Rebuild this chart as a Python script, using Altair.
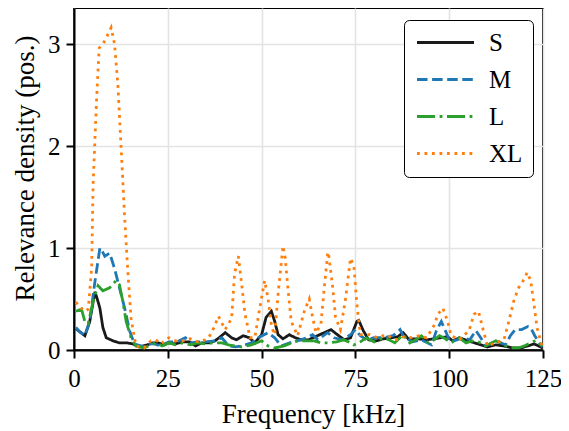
import altair as alt
import pandas as pd

# ---- data ----
s_x = [0.5, 1.5, 2.9, 4.2, 5.0, 5.6, 6.2, 6.9, 7.7, 8.6, 10.4, 12.1, 14.0, 15.7, 17.4, 19.5, 21.0, 22.5, 24.0, 25.3,
       27.0, 29.0, 30.8, 32.4, 34.0, 35.9, 37.6, 39.0, 40.3, 42.0, 43.3, 45.1, 46.7, 48.2, 50.0, 51.2, 52.6, 53.5,
       54.4, 55.7, 57.4, 59.0, 60.5, 62.5, 64.9, 66.7, 68.5, 70.2, 72.0, 73.7, 75.4, 75.9, 77.1, 78.5, 80.5, 82.5,
       84.5, 86.3, 87.7, 89.1, 91.5, 94.0, 96.0, 97.6, 99.5, 101.0, 102.7, 105.0, 107.6, 110.2, 112.4, 114.5, 116.9,
       119.0, 121.0, 122.6, 123.8, 124.9]
s_y = [0.21, 0.18, 0.14, 0.28, 0.45, 0.57, 0.50, 0.41, 0.22, 0.12, 0.09, 0.07, 0.07, 0.06, 0.03, 0.05, 0.07, 0.07,
       0.05, 0.07, 0.06, 0.08, 0.08, 0.04, 0.07, 0.07, 0.09, 0.13, 0.17, 0.12, 0.10, 0.14, 0.12, 0.07, 0.15, 0.32,
       0.38, 0.28, 0.15, 0.11, 0.15, 0.12, 0.10, 0.10, 0.14, 0.17, 0.20, 0.15, 0.10, 0.12, 0.28, 0.29, 0.19, 0.10,
       0.09, 0.11, 0.12, 0.13, 0.17, 0.11, 0.11, 0.10, 0.11, 0.12, 0.13, 0.09, 0.12, 0.09, 0.06, 0.03, 0.05, 0.04,
       0.02, 0.02, 0.04, 0.06, 0.04, 0.02]

m_x = [0.5, 1.5, 2.9, 4.2, 5.5, 6.9, 7.5, 8.2, 9.5, 10.8, 12.1, 13.5, 14.8, 16.1, 18.7, 20.2, 21.4, 23.0, 25.3, 27.5,
       29.7, 31.0, 33.0, 35.0, 37.6, 39.4, 41.2, 43.0, 44.7, 47.3, 49.1, 51.7, 53.5, 55.2, 57.5, 60.5, 62.0, 63.6,
       65.0, 67.6, 69.3, 71.5, 73.7, 75.0, 76.3, 78.0, 80.0, 82.5, 85.0, 86.9, 88.0, 90.3, 92.6, 95.3, 96.6, 97.9,
       99.2, 100.2, 102.0, 103.8, 105.5, 107.1, 108.4, 109.7, 111.5, 113.3, 115.0, 116.3, 117.6, 119.3, 121.0,
       121.7, 122.8, 124.0, 124.8]
m_y = [0.22, 0.18, 0.14, 0.28, 0.65, 1.00, 0.97, 0.92, 0.95, 0.80, 0.61, 0.41, 0.19, 0.06, 0.03, 0.06, 0.06, 0.04,
       0.08, 0.08, 0.12, 0.07, 0.08, 0.08, 0.09, 0.12, 0.04, 0.03, 0.04, 0.07, 0.12, 0.17, 0.12, 0.04, 0.07, 0.10,
       0.12, 0.15, 0.10, 0.17, 0.12, 0.10, 0.15, 0.20, 0.14, 0.10, 0.12, 0.12, 0.14, 0.20, 0.12, 0.08, 0.10, 0.05,
       0.19, 0.28, 0.17, 0.08, 0.10, 0.12, 0.10, 0.19, 0.12, 0.04, 0.07, 0.08, 0.05, 0.14, 0.20, 0.20, 0.23, 0.22,
       0.14, 0.07, 0.03]

l_x = [0.5, 2.0, 2.9, 3.8, 5.1, 6.4, 7.7, 9.5, 11.2, 12.1, 13.0, 13.9, 15.2, 16.5, 18.7, 20.5, 21.8, 23.5, 25.3, 27.0,
       29.0, 31.0, 33.0, 35.0, 37.0, 39.4, 41.2, 44.7, 47.3, 50.0, 51.7, 53.5, 56.0, 58.0, 59.6, 62.0, 64.0, 65.8,
       68.0, 70.0, 71.8, 73.2, 74.6, 76.3, 78.0, 80.0, 82.4, 84.0, 85.5, 87.7, 89.5, 91.0, 92.6, 94.4, 96.0, 97.4,
       99.0, 100.5, 102.7, 104.5, 106.0, 107.8, 109.7, 112.4, 114.5, 116.3, 118.5, 120.0, 121.7, 123.0, 124.0, 124.9]
l_y = [0.38, 0.40, 0.28, 0.26, 0.48, 0.63, 0.58, 0.61, 0.68, 0.64, 0.48, 0.28, 0.12, 0.04, 0.02, 0.05, 0.07, 0.04,
       0.07, 0.05, 0.07, 0.05, 0.07, 0.06, 0.07, 0.07, 0.05, 0.03, 0.05, 0.09, 0.04, 0.02, 0.04, 0.07, 0.09, 0.09,
       0.09, 0.07, 0.07, 0.08, 0.10, 0.08, 0.05, 0.08, 0.12, 0.08, 0.12, 0.10, 0.07, 0.15, 0.07, 0.10, 0.14, 0.07,
       0.10, 0.14, 0.11, 0.07, 0.12, 0.07, 0.09, 0.08, 0.04, 0.09, 0.05, 0.02, 0.02, 0.04, 0.07, 0.09, 0.07, 0.04]

xl_x = [0.5, 1.5, 3.0, 3.8, 4.7, 5.1, 6.0, 6.7, 7.7, 8.6, 9.9, 10.8, 11.7, 12.6, 13.5, 14.3, 15.2, 16.5, 18.7, 20.5,
        21.8, 23.1, 25.3, 27.0, 29.0, 31.0, 33.0, 35.0, 35.9, 37.3, 38.5, 40.3, 42.0, 42.8, 43.8, 44.7, 45.6, 46.9,
        48.2, 49.5, 50.8, 51.7, 52.7, 53.5, 54.4, 55.7, 56.3, 57.0, 57.9, 59.6, 61.4, 62.7, 63.6, 64.5, 65.8, 66.7,
        67.6, 67.8, 68.9, 69.7, 71.0, 72.3, 73.7, 74.6, 75.4, 76.3, 78.9, 81.0, 83.0, 86.0, 88.0, 90.0, 92.0, 94.0,
        96.1, 97.0, 98.3, 99.6, 100.5, 102.7, 105.3, 106.6, 107.8, 108.9, 110.2, 112.4, 114.6, 115.9, 117.2, 118.5,
        119.9, 120.8, 121.7, 122.6, 123.4, 124.7]
xl_y = [0.47, 0.42, 0.38, 0.40, 0.80, 1.63, 2.44, 2.96, 3.00, 3.06, 3.16, 3.00, 2.60, 1.95, 1.30, 0.80, 0.31, 0.04,
        0.02, 0.09, 0.10, 0.06, 0.12, 0.09, 0.09, 0.11, 0.08, 0.10, 0.12, 0.22, 0.33, 0.20, 0.31, 0.75, 0.92, 0.64,
        0.35, 0.12, 0.12, 0.41, 0.68, 0.51, 0.22, 0.15, 0.55, 1.02, 0.90, 0.61, 0.28, 0.14, 0.38, 0.50, 0.32, 0.17,
        0.25, 0.61, 0.94, 0.96, 0.63, 0.32, 0.20, 0.48, 0.90, 0.82, 0.45, 0.15, 0.15, 0.12, 0.15, 0.10, 0.13, 0.12,
        0.14, 0.12, 0.25, 0.35, 0.41, 0.28, 0.14, 0.10, 0.19, 0.35, 0.38, 0.22, 0.04, 0.07, 0.10, 0.28, 0.48, 0.61,
        0.69, 0.76, 0.68, 0.45, 0.22, 0.04]

series_names = ["S", "M", "L", "XL"]
series_colors = ["#1a1a1a", "#1f77b4", "#2ca02c", "#ff7f0e"]
series_dashes = [[1, 0], [10.5, 4.6], [18, 4.6, 2.8, 4.6], [2.8, 4.7]]
x_ticks = [0, 25, 50, 75, 100, 125]
y_ticks = [0, 1, 2, 3]

frames = []
for name, xs, ys in [("S", s_x, s_y), ("M", m_x, m_y), ("L", l_x, l_y), ("XL", xl_x, xl_y)]:
    frames.append(pd.DataFrame({"freq": xs, "dens": ys, "size": name, "order": range(len(xs))}))
df = pd.concat(frames, ignore_index=True)

FONT = "Liberation Serif"
W, H = 469, 342

chart = alt.Chart(df).mark_line(strokeWidth=2.8, clip=True).encode(
    x=alt.X("freq:Q", title="Frequency [kHz]",
            scale=alt.Scale(domain=[0, 125], nice=False, zero=False),
            axis=alt.Axis(values=x_ticks, labelFlush=False, titleX=239)),
    y=alt.Y("dens:Q", title="Relevance density (pos.)",
            scale=alt.Scale(domain=[0, 3.353], nice=False),
            axis=alt.Axis(values=y_ticks, titleY=160)),
    color=alt.Color("size:N", title=None,
                    scale=alt.Scale(domain=series_names, range=series_colors),
                    legend=alt.Legend(
                        orient="none", legendX=330, legendY=12,
                        symbolType="M-1,0H5", symbolSize=361,
                        symbolStrokeWidth=3, labelOffset=50,
                        labelFont=FONT, labelFontSize=25, labelColor="black",
                        rowPadding=11, padding=10,
                        strokeColor="black", fillColor="white",
                        cornerRadius=5)),
    strokeDash=alt.StrokeDash("size:N", title=None,
                              scale=alt.Scale(domain=series_names, range=series_dashes)),
    order="order:Q",
).properties(
    width=W, height=H,
    autosize=alt.AutoSizeParams(type="none"),
    padding={"left": 66, "top": 0, "right": 18, "bottom": 90},
).configure_view(
    stroke="black", strokeWidth=2,
).configure_axis(
    domainColor="black", domainWidth=2,
    tickColor="black", tickWidth=2, tickSize=8,
    labelFont=FONT, labelFontSize=25, labelColor="black",
    titleFont=FONT, titleFontSize=27, titleFontWeight="normal", titleColor="black",
    gridColor="#e3e3e3", gridWidth=1.6,
).configure_axisY(
    labelPadding=6, titlePadding=8,
).configure_axisX(
    labelPadding=8, titlePadding=10,
)

chart.save("out.html", embed_options={"renderer": "svg", "actions": False})
